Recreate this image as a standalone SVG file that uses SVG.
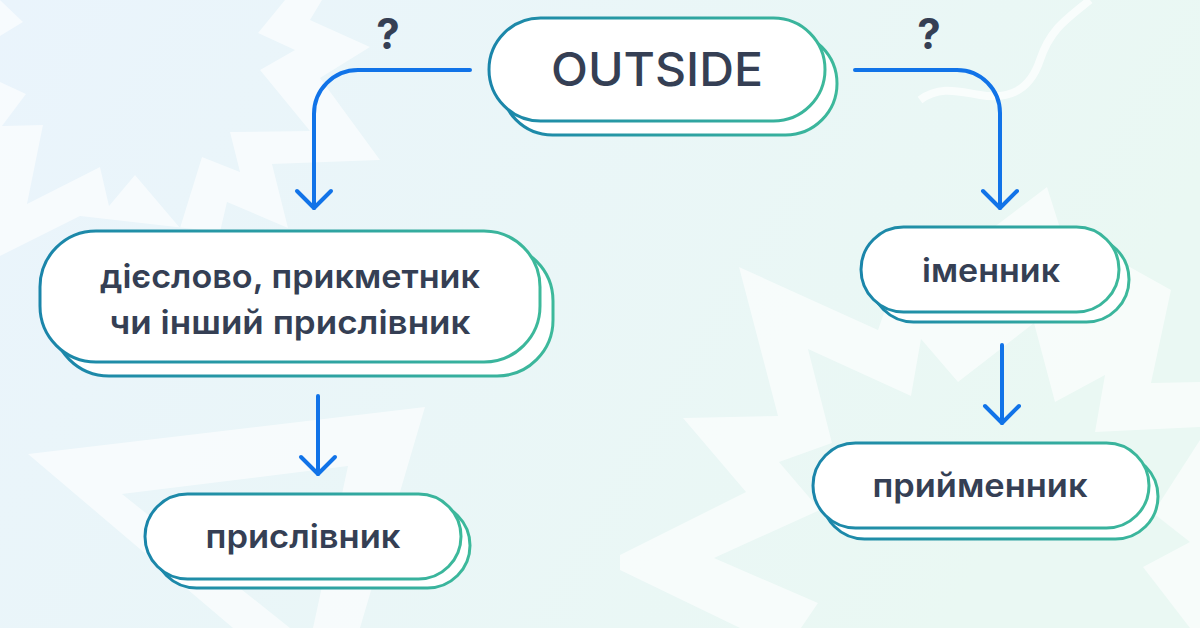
<svg xmlns="http://www.w3.org/2000/svg" width="1200" height="628" viewBox="0 0 1200 628">
<defs>
<linearGradient id="bg" x1="0" y1="0" x2="1" y2="0.3">
<stop offset="0" stop-color="#EAF4FC"/>
<stop offset="1" stop-color="#EAF8F3"/>
</linearGradient>
<linearGradient id="edge" x1="0" y1="0" x2="1" y2="0">
<stop offset="0" stop-color="#1A85AA"/>
<stop offset="1" stop-color="#3DB99B"/>
</linearGradient>
<style>
.deco{fill:#FFFFFF;opacity:0.6}
.back{fill:#FFFFFF;stroke:url(#edge);stroke-width:3}
.front{fill:#FFFFFF;stroke:url(#edge);stroke-width:3}
.lbl{font-family:Inter,"Noto Sans","DejaVu Sans",sans-serif;font-weight:600;font-size:33px;fill:#353F54;text-anchor:middle}
.q{font-family:Inter,"Noto Sans","DejaVu Sans",sans-serif;font-weight:700;font-size:42px;fill:#353F54;text-anchor:middle}
.arr{fill:none;stroke:#1173E8;stroke-width:4;stroke-linecap:round;stroke-linejoin:round}
</style>
</defs>
<rect x="0" y="0" width="1200" height="628" fill="url(#bg)"/>
<g id="background">
<polygon class="deco" points="0,0 23,22 0,36"/>
<polygon class="deco" points="0,82 26,94 2,126 43,125 27,204 100,167 109,206 135,175 180,228 202,157 240,172 230,132 310,131 260,70 295,50 258,33 285,0 322,0 310,20 370,47 320,78 380,160 272,164 288,228 227,202 220,232 80,216 0,256"/>
<polygon class="deco" points="28,454 425,407 360,628 313,628 348,466 122,494 290,628 233,628"/>
<polygon class="deco" points="620,555 746,492 683,418 778,416 739,267 878,330 885,310 1047,187 1060,228 1171,290 1151,383 1200,382 1200,427 1095,432 1105,375 1055,402 1034,323 958,382 921,339 911,396 808,349 832,443 779,462 820,510 714,558 818,603 801,628 740,628 620,570"/>
<polygon class="deco" points="1200,440 1153,513 1190,542 1143,567 1190,628 1200,628"/>
<path d="M920,100 C940,85 960,92 980,95 C1010,100 1030,90 1040,60 C1050,30 1065,20 1090,0" fill="none" stroke="#FFFFFF" stroke-width="8" opacity="0.7"/>
</g>
<g id="connectors">
<path class="arr" d="M470,70 H358 A44,44 0 0 0 314,114 V208"/>
<path class="arr" d="M297,191 L314,208 L331,191"/>
<path class="arr" d="M855,70 H957 A43,43 0 0 1 1000,113 V208"/>
<path class="arr" d="M983,191 L1000,208 L1017,191"/>
<path class="arr" d="M318,396 V474"/>
<path class="arr" d="M301,457 L318,474 L335,457"/>
<path class="arr" d="M1002,345 V423"/>
<path class="arr" d="M985,406 L1002,423 L1019,406"/>
<text class="q" x="388" y="49">?</text>
<text class="q" x="929" y="49">?</text>
</g>
<g id="node-outside">
<rect class="back" x="501" y="32" width="336" height="103" rx="51.5"/>
<rect class="front" x="489" y="18" width="336" height="103" rx="51.5"/>
<text class="lbl" x="657" y="86" style="font-size:46px;font-weight:500" textLength="212" lengthAdjust="spacingAndGlyphs">OUTSIDE</text>
</g>
<g id="node-verb">
<rect class="back" x="53" y="245" width="500" height="131" rx="56"/>
<rect class="front" x="40" y="231" width="500" height="131" rx="56"/>
<text class="lbl" x="290" y="288" textLength="380" lengthAdjust="spacingAndGlyphs">дієслово, прикметник</text>
<text class="lbl" x="290" y="334" textLength="361" lengthAdjust="spacingAndGlyphs">чи інший прислівник</text>
</g>
<g id="node-adverb">
<rect class="back" x="154" y="503" width="316" height="85" rx="42.5"/>
<rect class="front" x="145" y="494" width="316" height="85" rx="42.5"/>
<text class="lbl" x="303" y="548" textLength="195" lengthAdjust="spacingAndGlyphs">прислівник</text>
</g>
<g id="node-noun">
<rect class="back" x="871" y="237" width="258" height="85" rx="42.5"/>
<rect class="front" x="861" y="227" width="258" height="85" rx="42.5"/>
<text class="lbl" x="991" y="282" textLength="138" lengthAdjust="spacingAndGlyphs">іменник</text>
</g>
<g id="node-preposition">
<rect class="back" x="822" y="454" width="336" height="85" rx="42.5"/>
<rect class="front" x="813" y="443" width="336" height="85" rx="42.5"/>
<text class="lbl" x="980" y="497" textLength="215" lengthAdjust="spacingAndGlyphs">прийменник</text>
</g>
</svg>
